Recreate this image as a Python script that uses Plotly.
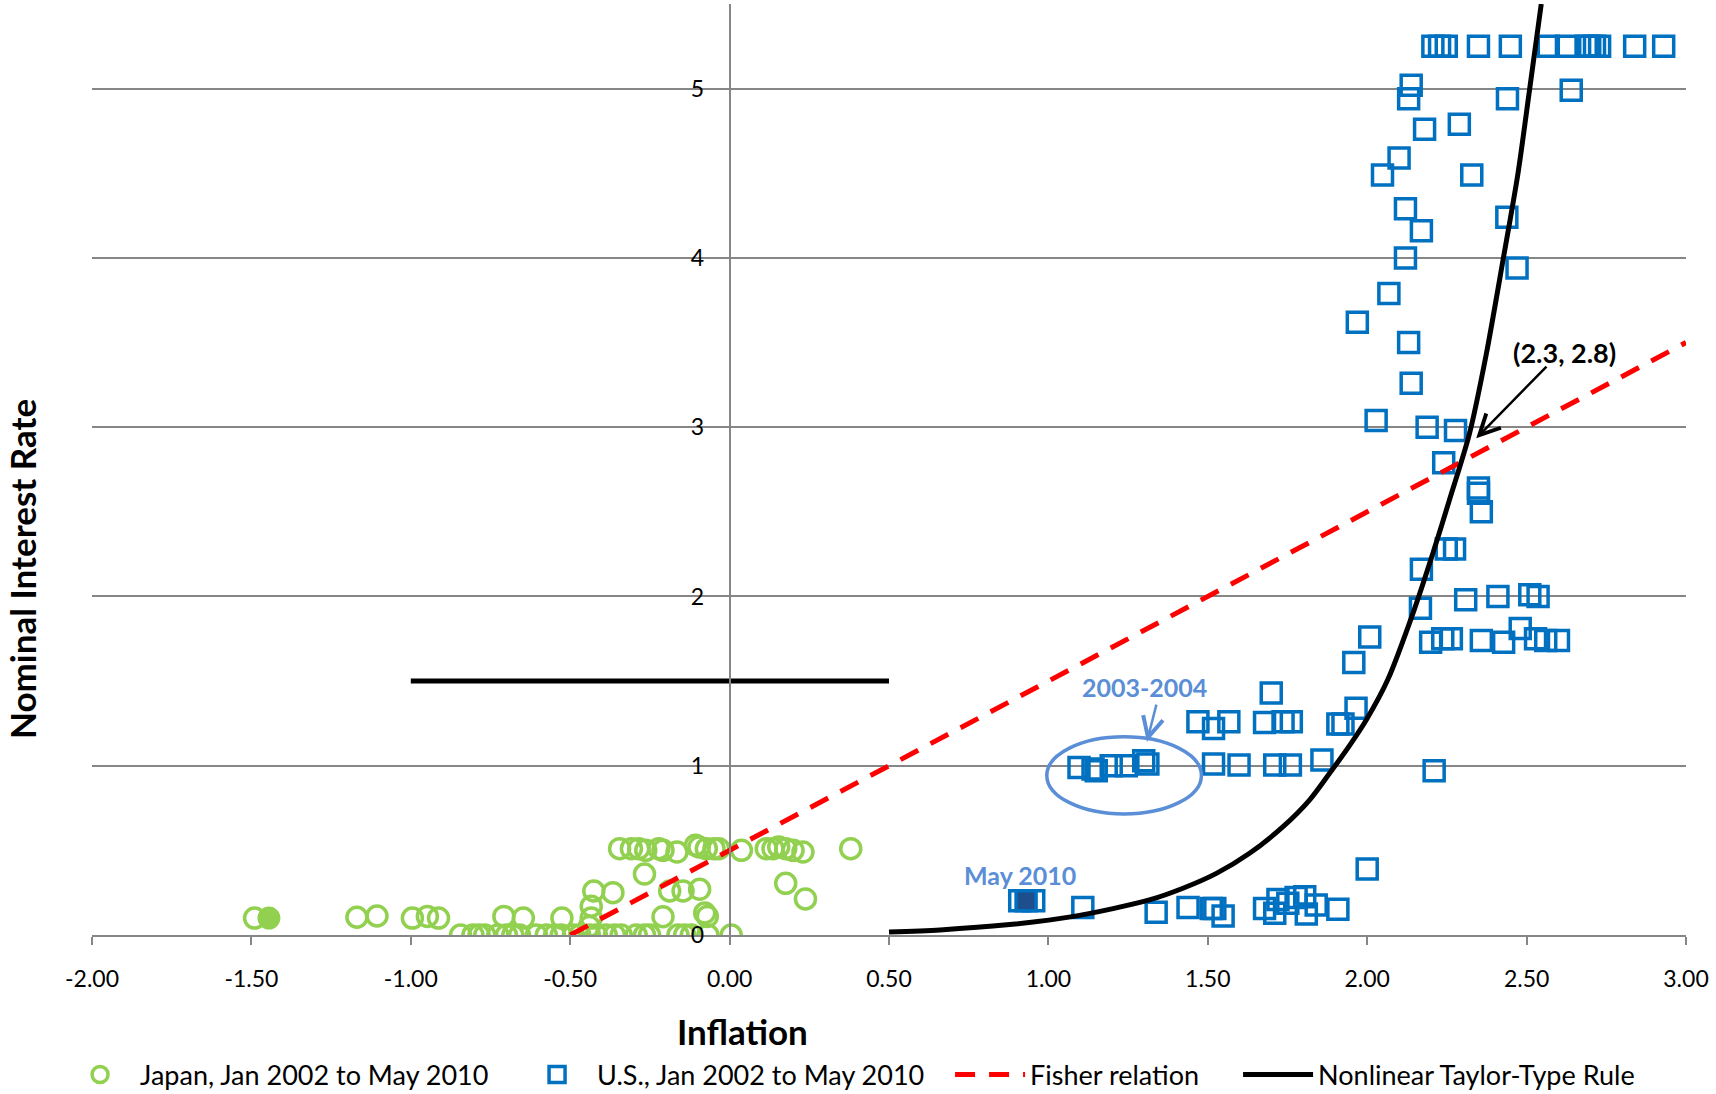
import plotly.graph_objects as go

# Japan, monthly inflation vs. policy rate
japan_x = [-1.49, -1.169, -1.106, -0.995, -0.948, -0.913, -0.708, -0.647, -0.526,
           -0.844, -0.805, -0.786, -0.768, -0.727, -0.70, -0.68, -0.659, -0.606,
           -0.575, -0.549, -0.528,
           -0.345, -0.308, -0.285, -0.263, -0.222, -0.209, -0.165, -0.107, -0.096,
           -0.073, -0.049, -0.034, 0.037, 0.115, 0.136, 0.154, 0.176, 0.199, 0.23, 0.38,
           -0.267, -0.426, -0.366, -0.188, -0.146, -0.094, 0.176, 0.238,
           -0.434, -0.434, -0.44, -0.209, -0.078, -0.07,
           -0.49, -0.47, -0.44, -0.418, -0.387, -0.361, -0.34, -0.293, -0.267, -0.251,
           -0.162, -0.141, -0.12, -0.068, 0.005]
japan_y = [0.10, 0.105, 0.112, 0.10, 0.11, 0.10, 0.11, 0.10, 0.10,
           0, 0, 0, 0, 0, 0, 0, 0, 0,
           0, 0, 0,
           0.51, 0.51, 0.51, 0.50, 0.51, 0.50, 0.49, 0.53, 0.52,
           0.51, 0.51, 0.51, 0.50, 0.51, 0.51, 0.52, 0.51, 0.50, 0.49, 0.51,
           0.36, 0.26, 0.25, 0.26, 0.26, 0.27, 0.305, 0.213,
           0.17, 0.10, 0.05, 0.108, 0.13, 0.11,
           0, 0, 0, 0, 0, 0, 0, 0, 0, 0,
           0, 0, 0, 0, 0]
japan_solid_x = [-1.445]
japan_solid_y = [0.10]

# U.S., monthly inflation vs. fed funds rate
us_x = [2.206, 2.227, 2.248, 2.349, 2.449, 2.568, 2.625, 2.687, 2.698, 2.713, 2.729, 2.839, 2.93,
        2.138, 2.130, 2.44, 2.64, 2.18, 2.289, 2.10, 2.048, 2.328, 2.12, 2.17, 2.438, 2.12,
        2.47, 2.068, 1.969, 2.13, 2.138, 2.028, 2.188, 2.277, 2.24, 2.349, 2.349, 2.358,
        2.248, 2.274, 2.17, 2.167, 2.309, 2.41, 2.51, 2.536, 2.008, 1.958, 2.199, 2.237,
        2.264, 2.358, 2.428, 2.48, 2.528, 2.56, 2.60,
        1.096, 1.14, 1.15, 1.197, 1.244, 1.299, 1.312,
        1.469, 1.518, 1.566, 1.678, 1.736, 1.762, 1.699, 1.908, 1.924, 1.965,
        1.518, 1.598, 1.71, 1.759, 1.858, 2.21, 2.0,
        0.91, 0.954, 1.108, 1.338, 1.438, 1.511, 1.522, 1.548, 1.678, 1.71, 1.72, 1.751,
        1.777, 1.809, 1.84, 1.908, 1.804]
us_y = [5.25, 5.25, 5.25, 5.25, 5.25, 5.25, 5.25, 5.25, 5.25, 5.25, 5.25, 5.25, 5.25,
        5.02, 4.94, 4.94, 4.99, 4.76, 4.79, 4.59, 4.49, 4.49, 4.29, 4.16, 4.24, 4.00,
        3.94, 3.79, 3.62, 3.50, 3.26, 3.04, 3.00, 2.98, 2.79, 2.64, 2.61, 2.50,
        2.28, 2.28, 2.16, 1.93, 1.98, 2.00, 2.01, 2.00, 1.76, 1.61, 1.73, 1.75,
        1.75, 1.74, 1.73, 1.81, 1.75, 1.74, 1.74,
        0.99, 0.98, 0.97, 1.00, 1.00, 1.03, 1.01,
        1.26, 1.22, 1.26, 1.256, 1.26, 1.26, 1.43, 1.246, 1.246, 1.34,
        1.01, 1.004, 1.004, 1.004, 1.034, 0.97, 0.39,
        0.203, 0.203, 0.163, 0.134, 0.163, 0.157, 0.157, 0.112, 0.157, 0.128, 0.21, 0.187,
        0.222, 0.124, 0.177, 0.152, 0.226]
may2010_x = [0.93]
may2010_y = [0.203]

# Fisher relation and nonlinear Taylor-type rule
fisher_x = [-0.5, 3.0]
fisher_y = [0.0, 3.5]
taylor_x = [0.5, 0.66, 0.87, 1.08, 1.317, 1.422, 1.527, 1.631, 1.736, 1.819, 1.882, 1.945,
            1.997, 2.064, 2.149, 2.206, 2.258, 2.321, 2.374, 2.426, 2.473, 2.509, 2.546]
taylor_y = [0.017, 0.03, 0.06, 0.11, 0.207, 0.276, 0.364, 0.483, 0.64, 0.797, 0.955, 1.12,
            1.27, 1.506, 1.93, 2.255, 2.57, 2.963, 3.436, 3.987, 4.5, 4.99, 5.5]
flat_x = [-1.0, 0.5]
flat_y = [1.5, 1.5]

x_ticks = [-2, -1.5, -1, -0.5, 0, 0.5, 1, 1.5, 2, 2.5, 3]
x_tick_labels = ["-2.00", "-1.50", "-1.00", "-0.50", "0.00", "0.50", "1.00", "1.50",
                 "2.00", "2.50", "3.00"]
y_ticks = [0, 1, 2, 3, 4, 5]

GREEN = "#92D050"
BLUE = "#0070C0"
NOTE_BLUE = "#5A8ED6"
GRID = "#868686"
FONT = "Lato"

fig = go.Figure()
fig.add_trace(go.Scatter(
    x=japan_x, y=japan_y, mode="markers", name="Japan, Jan 2002 to May 2010",
    marker=dict(symbol="circle-open", size=20, color=GREEN, line=dict(color=GREEN, width=3.5)),
    legendwidth=372,
))
fig.add_trace(go.Scatter(
    x=japan_solid_x, y=japan_solid_y, mode="markers", showlegend=False,
    marker=dict(symbol="circle", size=21, color=GREEN, line=dict(color=GREEN, width=2)),
))
fig.add_trace(go.Scatter(
    x=us_x, y=us_y, mode="markers", name="U.S., Jan 2002 to May 2010",
    marker=dict(symbol="square-open", size=20, color=BLUE, line=dict(color=BLUE, width=3.5)),
    legendwidth=348,
))
fig.add_trace(go.Scatter(
    x=may2010_x, y=may2010_y, mode="markers", showlegend=False,
    marker=dict(symbol="square", size=20, color="#1F4E8C", line=dict(color=BLUE, width=3.5)),
))
fig.add_trace(go.Scatter(
    x=fisher_x, y=fisher_y, mode="lines", name="Fisher relation",
    line=dict(color="#FF0000", width=5, dash="20px,14px"),
    legendwidth=203,
))
fig.add_trace(go.Scatter(
    x=taylor_x, y=taylor_y, mode="lines", name="Nonlinear Taylor-Type Rule",
    line=dict(color="black", width=5, shape="spline", smoothing=0.8),
))
fig.add_trace(go.Scatter(
    x=flat_x, y=flat_y, mode="lines", showlegend=False,
    line=dict(color="black", width=5),
))

# circled 2003-2004 cluster
fig.add_shape(type="circle", xref="x", yref="y", x0=0.995, x1=1.48, y0=0.715, y1=1.171,
              line=dict(color=NOTE_BLUE, width=3.5))

fig.add_annotation(x=1.30, y=1.463, text="<b>2003-2004</b>", showarrow=False,
                   font=dict(family=FONT, size=25, color=NOTE_BLUE))
fig.add_annotation(x=1.309, y=1.142, ax=1.34, ay=1.37, axref="x", ayref="y", text="",
                   showarrow=True, arrowhead=5, arrowsize=1.6, arrowwidth=2.5, arrowcolor=NOTE_BLUE)
fig.add_annotation(x=0.91, y=0.354, text="<b>May 2010</b>", showarrow=False,
                   font=dict(family=FONT, size=25, color=NOTE_BLUE))
fig.add_annotation(x=2.619, y=3.44, text="<b>(2.3, 2.8)</b>", showarrow=False,
                   font=dict(family=FONT, size=27, color="black"))
fig.add_annotation(x=2.342, y=2.934, ax=2.567, ay=3.367, axref="x", ayref="y", text="",
                   showarrow=True, arrowhead=5, arrowsize=1.6, arrowwidth=2.5, arrowcolor="black")

# axis titles
fig.add_annotation(xref="paper", yref="paper", x=0.408, y=-0.103, xanchor="center",
                   yanchor="middle", text="<b>Inflation</b>",
                   showarrow=False, font=dict(family=FONT, size=35, color="black"))
fig.add_annotation(xref="paper", yref="paper", x=-0.044, y=0.393, xanchor="center",
                   yanchor="middle", text="<b>Nominal Interest Rate</b>",
                   textangle=-90, showarrow=False, font=dict(family=FONT, size=35, color="black"))

fig.update_xaxes(
    range=[-2, 3], tickvals=x_ticks, ticktext=x_tick_labels, showgrid=False, zeroline=False,
    showline=True, linecolor=GRID, linewidth=2, ticks="outside", ticklen=8, tickcolor=GRID,
    tickwidth=2, ticklabelstandoff=14, tickfont=dict(family=FONT, size=23, color="black"),
)
fig.update_yaxes(
    range=[0, 5.5], tickvals=y_ticks, showgrid=True, gridcolor=GRID, gridwidth=1.5,
    zeroline=False, showline=True, linecolor=GRID, linewidth=2, anchor="free", position=0.4,
    ticks="", ticklabelstandoff=20, tickfont=dict(family=FONT, size=23, color="black"),
)
fig.update_layout(
    width=1716, height=1094,
    margin=dict(l=92, r=30, t=4, b=159),
    paper_bgcolor="white", plot_bgcolor="white",
    font=dict(family=FONT, color="black"),
    legend=dict(orientation="h", xref="container", x=0.035, xanchor="left",
                yref="container", y=0.0174, yanchor="middle",
                itemwidth=70, font=dict(family=FONT, size=27, color="black")),
)
fig.write_html("out.html", config={"displayModeBar": False},
               post_script="document.body.style.margin='0';")
